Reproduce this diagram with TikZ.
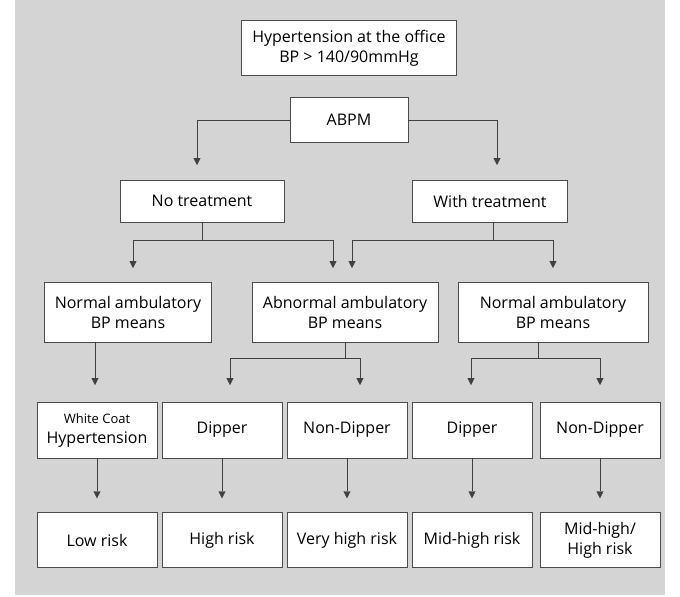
\documentclass[tikz,border=0pt]{standalone}
\usepackage{fontspec}
\setmainfont{Open Sans}
\usetikzlibrary{arrows.meta}
\begin{document}
\begin{tikzpicture}
        [%%%%%%%%%%%%%%%%%%%%%%%%%%%%%%
            x=1pt,y=-1pt,
            box/.style={draw=black!70,fill=white,align=center,font=\fontsize{16}{20}\selectfont,inner sep=0pt},
            arr/.style={draw=black!75,-{Triangle[length=7pt,width=7pt]}},
            ln/.style={draw=black!75},
        ]%%%%%%%%%%%%%%%%%%%%%%%%%%%%%%
        \useasboundingbox (0,0) rectangle (680,597);
        \fill[black!17] (15,0) rectangle (665,595);

        \node[box,minimum width=215pt,minimum height=55pt] (office) at (349,48) {Hypertension at the office\\BP > 140/90mmHg};
        \node[box,minimum width=118pt,minimum height=45pt] (abpm) at (349,120) {ABPM};
        \node[box,minimum width=164pt,minimum height=42pt] (notreat) at (202,201) {No treatment};
        \node[box,minimum width=155pt,minimum height=42pt] (withtreat) at (490,201) {With treatment};

        \node[box,minimum width=167pt,minimum height=60pt] (normA) at (128,312) {Normal ambulatory\\BP means};
        \node[box,minimum width=186pt,minimum height=60pt] (abnorm) at (345,312) {Abnormal ambulatory\\BP means};
        \node[box,minimum width=190pt,minimum height=60pt] (normB) at (553,312) {Normal ambulatory\\BP means};

        \foreach \n/\x/\t in {wch/97/{\fontsize{13}{17}\selectfont White Coat\\Hypertension},dipA/222/Dipper,nondipA/347/Non-Dipper,dipB/472/Dipper,nondipB/600/Non-Dipper}{
            \node[box,minimum width=120pt,minimum height=56pt] (\n) at (\x,430) {\t};
        }
        \foreach \n/\x/\t in {low/97/Low risk,high/222/High risk,vhigh/347/Very high risk,mid/472/Mid-high risk,midhigh/600/{Mid-high/\\High risk}}{
            \node[box,minimum width=120pt,minimum height=55pt] (\n) at (\x,540) {\t};
        }

        % ABPM branches
        \coordinate (aL) at (197,165);
        \coordinate (aR) at (497,165);
        \draw[arr] (abpm.west) -| (aL);
        \draw[arr] (abpm.east) -| (aR);

        % treatment branches
        \coordinate (nt) at (202,240);
        \coordinate (wt) at (493,240);
        \draw[ln] (notreat.south -| nt) -- (nt);
        \draw[ln] (withtreat.south -| wt) -- (wt);
        \draw[arr] (nt) -| (133,268);
        \draw[arr] (nt) -| (333,268);
        \draw[arr] (wt) -| (352,268);
        \draw[arr] (wt) -| (553,268);

        % BP means branches
        \coordinate (ab) at (345,358);
        \coordinate (nb) at (538,358);
        \draw[ln] (abnorm.south) -- (ab);
        \draw[ln] (normB.south -| nb) -- (nb);
        \draw[arr] (ab) -| (230,385);
        \draw[arr] (ab) -| (360,385);
        \draw[arr] (nb) -| (471,385);
        \draw[arr] (nb) -| (600,385);
        \draw[arr] (normA.south -| 95,0) -- (95,385);

        % risk
        \foreach \a/\b in {wch/low,dipA/high,nondipA/vhigh,dipB/mid,nondipB/midhigh}{
            \draw[arr] (\a.south) -- ([yshift=14pt]\b.north);
        }
    \end{tikzpicture}
\end{document}
